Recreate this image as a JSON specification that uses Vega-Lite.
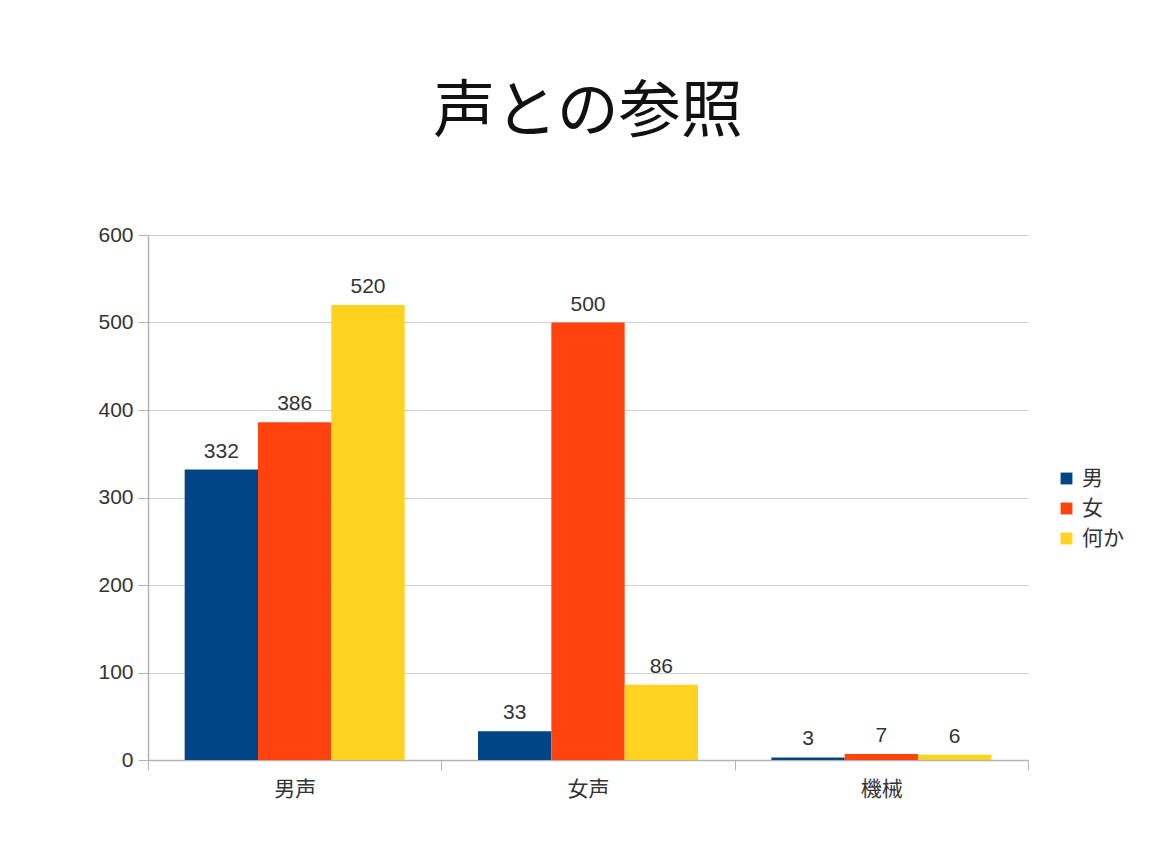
{
  "$schema": "https://vega.github.io/schema/vega-lite/v6.json",
  "width": 880,
  "height": 525,
  "autosize": "none",
  "padding": {"left": 148, "top": 235, "right": 146, "bottom": 91},
  "background": "white",
  "title": {
    "text": "声との参照",
    "font": "Noto Sans CJK JP",
    "fontSize": 62,
    "fontWeight": "normal",
    "color": "#111111",
    "anchor": "middle",
    "offset": 79
  },
  "config": {
    "view": {"stroke": null},
    "axis": {
      "labelFont": "'Liberation Sans', 'Noto Sans CJK JP'",
      "labelFontSize": 21,
      "labelColor": "#333333",
      "domainColor": "#b3b3b3",
      "tickColor": "#b3b3b3",
      "gridColor": "#d0d0d0",
      "title": null
    }
  },
  "data": {
    "values": [
      {"group": "男声", "series": "男", "value": 332},
      {"group": "男声", "series": "女", "value": 386},
      {"group": "男声", "series": "何か", "value": 520},
      {"group": "女声", "series": "男", "value": 33},
      {"group": "女声", "series": "女", "value": 500},
      {"group": "女声", "series": "何か", "value": 86},
      {"group": "機械", "series": "男", "value": 3},
      {"group": "機械", "series": "女", "value": 7},
      {"group": "機械", "series": "何か", "value": 6}
    ]
  },
  "encoding": {
    "x": {
      "field": "group",
      "type": "nominal",
      "sort": ["男声", "女声", "機械"],
      "scale": {"paddingInner": 0, "paddingOuter": 0},
      "axis": {"labelAngle": 0, "tickBand": "extent", "tickSize": 10, "labelPadding": 8, "domainWidth": 1.5}
    },
    "xOffset": {
      "field": "series",
      "type": "nominal",
      "sort": ["男", "女", "何か"],
      "scale": {"paddingInner": 0, "paddingOuter": 0.5}
    },
    "y": {
      "field": "value",
      "type": "quantitative",
      "scale": {"domain": [0, 600]},
      "axis": {"values": [0, 100, 200, 300, 400, 500, 600], "tickSize": 10, "labelPadding": 5, "domainWidth": 1.5}
    }
  },
  "layer": [
    {
      "mark": {"type": "bar"},
      "encoding": {
        "color": {
          "field": "series",
          "type": "nominal",
          "scale": {"domain": ["男", "女", "何か"], "range": ["#004586", "#ff420e", "#ffd320"]},
          "legend": {
            "title": null,
            "orient": "none",
            "legendX": 908,
            "legendY": 233,
            "symbolType": "square",
            "symbolSize": 140,
            "symbolStrokeWidth": 0,
            "labelFont": "'Noto Sans CJK JP'",
            "labelFontSize": 21,
            "labelColor": "#333333",
            "rowPadding": 8,
            "labelOffset": 5
          }
        }
      }
    },
    {
      "mark": {
        "type": "text",
        "baseline": "bottom",
        "dy": -8,
        "font": "'Liberation Sans'",
        "fontSize": 21,
        "color": "#333333"
      },
      "encoding": {
        "text": {"field": "value", "type": "quantitative"}
      }
    }
  ]
}
